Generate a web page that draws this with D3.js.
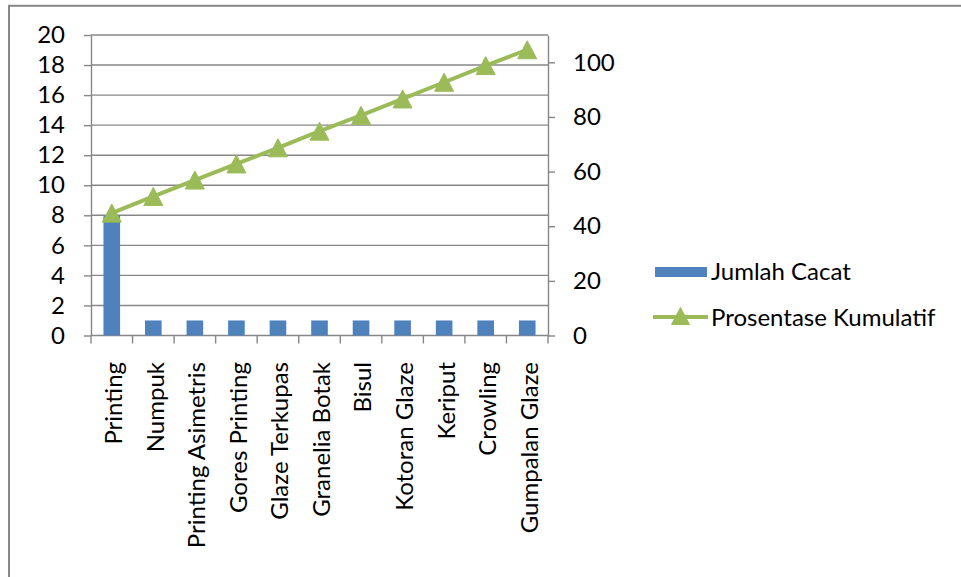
<!DOCTYPE html>
<html>
<head>
<meta charset="utf-8">
<script src="https://cdn.jsdelivr.net/npm/d3@7"></script>
<style>
  html, body { margin: 0; padding: 0; background: #fff; }
  svg { display: block; }
  text { font-family: Lato, "Open Sans", sans-serif; fill: #000; }
</style>
</head>
<body>
<svg id="chart" width="961" height="577"></svg>
<script>
// Defect categories (Pareto order)
const categories = [
  "Printing", "Numpuk", "Printing Asimetris", "Gores Printing", "Glaze Terkupas",
  "Granelia Botak", "Bisul", "Kotoran Glaze", "Keriput", "Crowling", "Gumpalan Glaze"
];
// Defect counts (left axis)
const jumlahCacat = [8, 1, 1, 1, 1, 1, 1, 1, 1, 1, 1];
// Cumulative percentage (right axis)
const prosentaseKumulatif = [44.8, 50.9, 56.9, 62.8, 68.7, 74.8, 80.6, 86.6, 92.7, 98.8, 104.6];
// Axis ticks
const leftTicks = [0, 2, 4, 6, 8, 10, 12, 14, 16, 18, 20];
const rightTicks = [0, 20, 40, 60, 80, 100];
const seriesNames = ["Jumlah Cacat", "Prosentase Kumulatif"];

const svg = d3.select("#chart");
const plot = { left: 91, right: 548, top: 35, bottom: 335.5 };
const gridColor = "#878787";
const barColor = "#4F81BD";
const lineColor = "#9BBB59";
const fontSize = 24;

// Outer chart frame
svg.append("rect")
  .attr("x", 9).attr("y", 5.8)
  .attr("width", 1000).attr("height", 700)
  .attr("fill", "none").attr("stroke", gridColor).attr("stroke-width", 2);

const x = d3.scaleBand().domain(categories)
  .range([plot.left, plot.right]).paddingInner(0.6).paddingOuter(0.3);
const yL = d3.scaleLinear().domain([0, 20]).range([plot.bottom, plot.top]);
const yR = d3.scaleLinear().domain([0, 110]).range([plot.bottom, plot.top]);

// Horizontal gridlines
svg.append("g").selectAll("line").data(leftTicks.filter(d => d > 0)).join("line")
  .attr("x1", plot.left).attr("x2", plot.right)
  .attr("y1", d => yL(d)).attr("y2", d => yL(d))
  .attr("stroke", gridColor).attr("stroke-width", 1.4);

// Left axis
const gL = svg.append("g").attr("transform", `translate(${plot.left},0)`)
  .call(d3.axisLeft(yL).tickValues(leftTicks).tickSize(7).tickSizeOuter(0).tickPadding(19));
// Right axis
const gR = svg.append("g").attr("transform", `translate(${plot.right},0)`)
  .call(d3.axisRight(yR).tickValues(rightTicks).tickSize(7).tickSizeOuter(0).tickPadding(18));
// Bottom axis: ticks on category boundaries, labels rotated
const step = x.step();
const bounds = categories.map(c => x(c) - (step - x.bandwidth()) / 2).concat([plot.right]);
const gB = svg.append("g");
gB.append("line")
  .attr("x1", plot.left).attr("x2", plot.right)
  .attr("y1", plot.bottom).attr("y2", plot.bottom);
gB.selectAll("line.tick").data(bounds).join("line").attr("class", "tick")
  .attr("x1", d => d).attr("x2", d => d)
  .attr("y1", plot.bottom).attr("y2", plot.bottom + 8);
gB.selectAll("text").data(categories).join("text")
  .attr("transform", d => `translate(${x(d) + x.bandwidth() / 2 + 2},362) rotate(-90)`)
  .attr("text-anchor", "end").attr("dy", "0.35em")
  .text(d => d);

[gL, gR, gB].forEach(g => {
  g.selectAll("path, line").attr("stroke", gridColor).attr("stroke-width", 1.4);
  g.selectAll("text").attr("font-size", fontSize).attr("font-family", "Lato, sans-serif").attr("fill", "#000");
});

// Bars
svg.append("g").selectAll("rect").data(jumlahCacat).join("rect")
  .attr("x", (d, i) => x(categories[i]))
  .attr("width", x.bandwidth())
  .attr("y", d => yL(d))
  .attr("height", d => plot.bottom - yL(d))
  .attr("fill", barColor);

// Cumulative line
const cx = i => x(categories[i]) + x.bandwidth() / 2;
svg.append("path")
  .datum(prosentaseKumulatif)
  .attr("fill", "none").attr("stroke", lineColor).attr("stroke-width", 4)
  .attr("d", d3.line().x((d, i) => cx(i)).y(d => yR(d)));

const tri = (w, h) => `M0,${-h / 2}L${w / 2},${h / 2}L${-w / 2},${h / 2}Z`;
svg.append("g").selectAll("path").data(prosentaseKumulatif).join("path")
  .attr("transform", (d, i) => `translate(${cx(i)},${yR(d)})`)
  .attr("d", tri(19, 18))
  .attr("fill", lineColor).attr("stroke", lineColor).attr("stroke-width", 1);

// Legend
const lg = svg.append("g");
lg.append("rect").attr("x", 655).attr("y", 267).attr("width", 52).attr("height", 10).attr("fill", barColor);
lg.append("text").attr("x", 711).attr("y", 272).attr("dy", "0.35em")
  .attr("font-size", fontSize).text(seriesNames[0]);
lg.append("line").attr("x1", 653).attr("x2", 708).attr("y1", 317).attr("y2", 317)
  .attr("stroke", lineColor).attr("stroke-width", 4);
lg.append("path").attr("transform", "translate(680.5,316)").attr("d", tri(18, 17))
  .attr("fill", lineColor).attr("stroke", lineColor).attr("stroke-width", 1);
lg.append("text").attr("x", 711).attr("y", 318).attr("dy", "0.35em")
  .attr("font-size", fontSize).text(seriesNames[1]);
</script>
</body>
</html>
